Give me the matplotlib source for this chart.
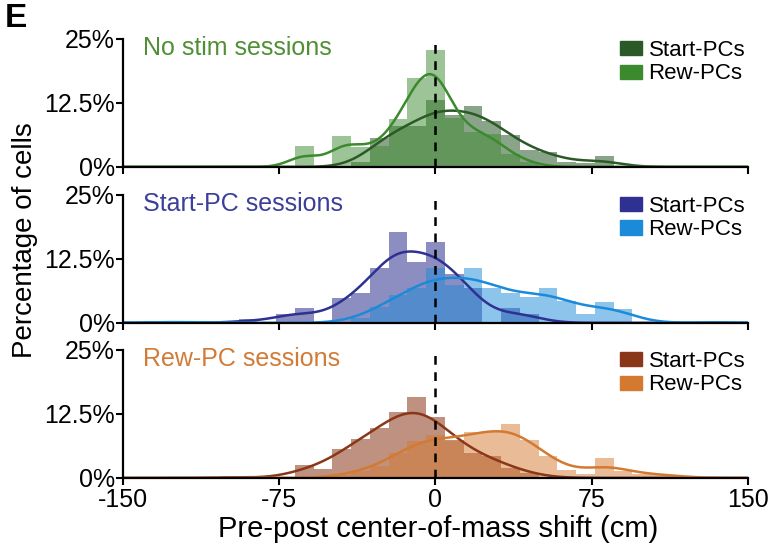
import numpy as np
import matplotlib
matplotlib.use('Agg')
import matplotlib.pyplot as plt
from matplotlib.patches import Patch

plt.rcParams['font.family'] = ['Liberation Sans', 'DejaVu Sans']
plt.rcParams['axes.unicode_minus'] = False

# bins are 9 cm wide, centred on multiples of 9 (k = -16 .. 16)
BIN_W = 9
bin_k = np.arange(-16, 17)
centers = bin_k * BIN_W


def by_bin(d):
    # dict {bin index: percent} -> full list over all bins
    return [d.get(k, 0.0) for k in bin_k]


# percentage of cells per bin
nostim_start = by_bin({-4: 1.0, -3: 5.6, -2: 7.9, -1: 7.9, 0: 13.1, 1: 10.2, 2: 11.9,
                       3: 9.0, 4: 6.3, 5: 3.3, 6: 3.0, 7: 1.0, 8: 0.8, 9: 2.1})
nostim_rew = by_bin({-7: 4.0, -5: 6.0, -4: 3.8, -3: 4.0, -2: 9.3, -1: 17.4, 0: 22.9,
                     1: 9.5, 2: 6.9, 3: 6.5, 4: 2.5, 5: 1.0})

startpc_start = by_bin({-10: 0.7, -8: 1.8, -7: 2.8, -5: 4.8, -4: 5.8, -3: 10.8, -2: 17.8,
                        -1: 11.8, 0: 15.8, 1: 9.6, 2: 6.9, 4: 2.9, 5: 1.7})
startpc_rew = by_bin({-15: 0.3, -13: 0.3, -4: 1.0, -3: 3.1, -2: 5.5, -1: 6.9, 0: 10.7,
                      1: 7.4, 2: 10.7, 3: 6.9, 4: 5.9, 5: 5.1, 6: 6.9, 7: 4.3, 8: 1.8,
                      9: 4.1, 10: 2.7, 15: 0.3})

rewpc_start = by_bin({-11: 0.3, -7: 2.5, -6: 1.7, -5: 5.6, -4: 7.7, -3: 9.8, -2: 12.8,
                      -1: 15.8, 0: 11.9, 1: 7.5, 2: 4.8, 3: 4.2, 4: 2.0, 5: 1.0})
rewpc_rew = by_bin({-5: 0.5, -4: 1.4, -3: 2.3, -2: 4.9, -1: 7.2, 0: 8.3, 1: 7.2, 2: 9.0,
                    3: 9.0, 4: 10.6, 5: 7.4, 6: 4.3, 7: 1.6, 8: 0.7, 9: 3.8, 10: 1.4,
                    11: 0.7, 12: 0.8, 13: 0.3})

titles = ['No stim sessions', 'Start-PC sessions', 'Rew-PC sessions']
title_colors = ['#4f8f35', '#3c3f99', '#d27b36']
start_colors = ['#2b5a28', '#2e3191', '#8a3719']
rew_colors = ['#3b8a2e', '#1b8ad8', '#d47a30']
start_data = [nostim_start, startpc_start, rewpc_start]
rew_data = [nostim_rew, startpc_rew, rewpc_rew]
start_bw = [10, 10, 11]
rew_bw = [7.5, 11, 10]

xticks = [-150, -75, 0, 75, 150]
yticks = [0, 12.5, 25]
ytick_labels = ['0%', '12.5%', '25%']


def smooth(h, bw, xs):
    h = np.asarray(h)
    z = (xs[:, None] - centers[None, :]) / bw
    return (h[None, :] * np.exp(-0.5 * z ** 2)).sum(1) * BIN_W / (bw * np.sqrt(2 * np.pi))


fig = plt.figure(figsize=(7.71, 5.49), dpi=100)
tops = [0.929, 0.645, 0.3625]
height = 0.233
xs = np.linspace(-150, 150, 600)

for i in range(3):
    ax = fig.add_axes([0.1595, tops[i] - height, 0.8105, height])
    ax.bar(centers, start_data[i], width=BIN_W, color=start_colors[i], alpha=0.55, lw=0)
    ax.bar(centers, rew_data[i], width=BIN_W, color=rew_colors[i], alpha=0.5, lw=0)
    ax.plot(xs, smooth(start_data[i], start_bw[i], xs), color=start_colors[i], lw=1.8)
    ax.plot(xs, smooth(rew_data[i], rew_bw[i], xs), color=rew_colors[i], lw=1.8)
    ax.axvline(0, color='black', lw=1.8, ls=(0, (3.5, 3)))

    ax.set_xlim(-150, 150)
    ax.set_ylim(0, 25)
    ax.set_xticks(xticks)
    ax.set_yticks(yticks)
    ax.set_yticklabels(ytick_labels)
    if i < 2:
        ax.set_xticklabels([])
    ax.tick_params(labelsize=18, length=5, width=1.5)
    ax.tick_params(axis='y', pad=1)
    ax.tick_params(axis='x', pad=2)
    for s in ['top', 'right']:
        ax.spines[s].set_visible(False)
    for s in ['left', 'bottom']:
        ax.spines[s].set_linewidth(1.6)
        ax.spines[s].set_zorder(5)

    ax.text(0.032, 0.93, titles[i], transform=ax.transAxes, fontsize=18,
            color=title_colors[i], va='center', ha='left')
    handles = [Patch(color=start_colors[i], label='Start-PCs'),
               Patch(color=rew_colors[i], label='Rew-PCs')]
    ax.legend(handles=handles, loc='upper right', bbox_to_anchor=(1.01, 1.06),
              frameon=False, fontsize=16, handlelength=1.0, handleheight=0.6,
              handletextpad=0.3, labelspacing=0.1, borderaxespad=0)

fig.text(0.006, 0.995, 'E', fontsize=24, fontweight='bold', va='top', ha='left')
fig.text(0.032, 0.563, 'Percentage of cells', rotation=90, fontsize=20,
         va='center', ha='center')
fig.text(0.568, 0.036, 'Pre-post center-of-mass shift (cm)', fontsize=21,
         va='center', ha='center')

fig.savefig('out.png', dpi=100)
